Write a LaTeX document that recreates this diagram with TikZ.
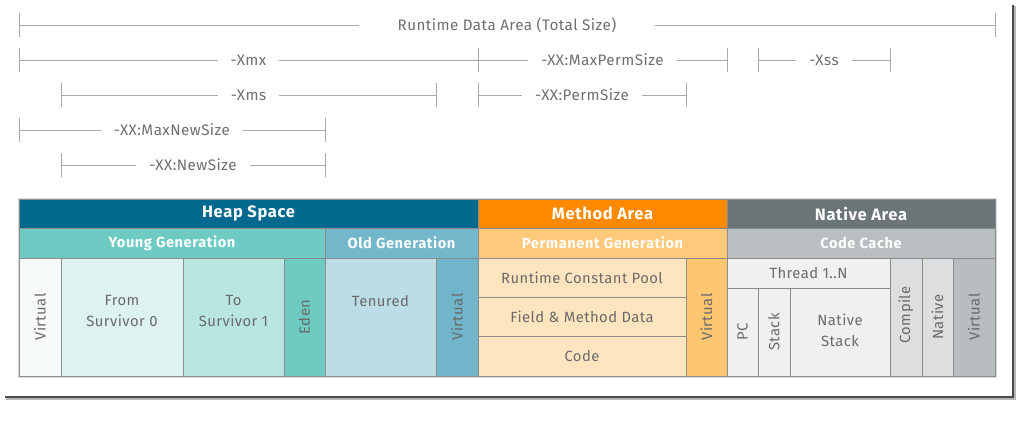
\documentclass[tikz,border=0pt]{standalone}
\usepackage{fontspec}
\setmainfont{Fira Sans}
\newfontfamily\hdfont[LetterSpace=4]{Fira Sans}
\newfontfamily\cellfont[LetterSpace=3]{Fira Sans}
\definecolor{heapc}{HTML}{03698F}
\definecolor{youngc}{HTML}{6DCBC3}
\definecolor{oldc}{HTML}{73B7CB}
\definecolor{vyc}{HTML}{F6FAFB}
\definecolor{fsc}{HTML}{DEF2F0}
\definecolor{tsc}{HTML}{B9E6E1}
\definecolor{edenc}{HTML}{6DCBC2}
\definecolor{tenc}{HTML}{BCDCE6}
\definecolor{voc}{HTML}{71B5CA}
\definecolor{methc}{HTML}{FF8A00}
\definecolor{permc}{HTML}{FFC97B}
\definecolor{pcellc}{HTML}{FFE5BF}
\definecolor{vpc}{HTML}{FFC671}
\definecolor{natc}{HTML}{6B7477}
\definecolor{cachec}{HTML}{B9BEC0}
\definecolor{thrc}{HTML}{F0F0F0}
\definecolor{compc}{HTML}{DDDEDF}
\definecolor{vnc}{HTML}{B8BDC0}
\definecolor{bordc}{HTML}{8C8C8C}
\definecolor{celltext}{HTML}{6A6A6A}
\definecolor{dimc}{HTML}{A9A9A9}
\definecolor{dimtext}{HTML}{6E6E6E}
\definecolor{framec}{HTML}{4A4A4A}
\tikzset{
  box/.style={draw=bordc, line width=0.6pt, anchor=north west, inner sep=0pt, outer sep=0pt, text=celltext, align=center, font=\cellfont\fontsize{14.8}{21}\selectfont},
  hd/.style={box, text=white, font=\hdfont\bfseries\fontsize{16.5}{18}\selectfont},
  hd2/.style={box, text=white, font=\hdfont\bfseries\fontsize{14.6}{18}\selectfont},
  vtext/.style={rotate=90, text=celltext, font=\cellfont\fontsize{14.8}{17}\selectfont},
  ctext/.style={text=celltext, align=center, font=\cellfont\fontsize{14.8}{21}\selectfont},
  dim/.style={draw=dimc, line width=0.9pt},
  dimlabel/.style={text=dimtext, inner ysep=0pt, font=\cellfont\fontsize{15.2}{17}\selectfont}
}
\begin{document}
\begin{tikzpicture}[x=1pt,y=-1pt]
\useasboundingbox (0,0) rectangle (1036,429);
% frame shadow
\draw[line width=3pt, color=framec!40] (6,398.5) -- (1014.5,398.5) -- (1014.5,6);
\draw[line width=2pt, color=framec] (5,397) -- (1013,397) -- (1013,5);
% dimension lines
\foreach \nm/\y/\a/\b/\gap/\lab in {
  rda/25/19/995/38/{Runtime Data Area (Total Size)},
  xmx/60/19/478/13/{-Xmx},
  mps/60/478/727/13/{-XX:MaxPermSize},
  xss/60/758/890/13/{-Xss},
  xms/95/61/436/13/{-Xms},
  ps/95/478/686/13/{-XX:PermSize},
  mns/130/19/325/13/{-XX:MaxNewSize},
  ns/165/61/325/13/{-XX:NewSize}}{
  \coordinate (\nm-a) at (\a,\y);
  \coordinate (\nm-b) at (\b,\y);
  \node[dimlabel, inner xsep=\gap pt] (\nm) at ({(\a+\b)/2},\y) {\lab};
  \draw[dim] (\nm-a) -- (\nm.west);
  \draw[dim] (\nm.east) -- (\nm-b);
  \draw[dim] ([yshift=12pt]\nm-a) -- ([yshift=-12pt]\nm-a);
  \draw[dim] ([yshift=12pt]\nm-b) -- ([yshift=-12pt]\nm-b);
}
% table shadow outline
\draw[color=black!15, line width=1pt] (18,198) rectangle (996,377);
% header row
\node[hd, fill=heapc, minimum width=459pt, minimum height=29pt] (heap) at (19,199) {Heap Space};
\node[hd, fill=methc, minimum width=249pt, minimum height=29pt] (meth) at (478,199) {Method Area};
\node[hd, fill=natc, minimum width=268pt, minimum height=29pt] (nat) at (727,199) {Native Area};
% second row
\node[hd2, fill=youngc, minimum width=306pt, minimum height=30pt] (young) at (19,228) {Young Generation};
\node[hd2, fill=oldc, minimum width=153pt, minimum height=30pt] (old) at (325,228) {Old Generation};
\node[hd2, fill=permc, minimum width=249pt, minimum height=30pt] (perm) at (478,228) {Permanent Generation};
\node[hd2, fill=cachec, minimum width=268pt, minimum height=30pt] (cache) at (727,228) {Code Cache};
% heap body
\node[box, fill=vyc, minimum width=42pt, minimum height=118pt] (vy) at (19,258) {};
\node[vtext] (vyt) at (vy.center) {Virtual};
\node[box, fill=fsc, minimum width=122pt, minimum height=118pt] (fs) at (61,258) {};
\node[ctext, anchor=north] (fst) at (122,292) {From\\Survivor 0};
\node[box, fill=tsc, minimum width=101pt, minimum height=118pt] (ts) at (183,258) {};
\node[ctext, anchor=north] (tst) at (233.5,292) {To\\Survivor 1};
\node[box, fill=edenc, minimum width=41pt, minimum height=118pt] (eden) at (284,258) {};
\node[vtext] (edent) at (eden.center) {Eden};
\node[box, fill=tenc, minimum width=111pt, minimum height=118pt] (ten) at (325,258) {};
\node[ctext, anchor=north] (tent) at (380.5,292) {Tenured};
\node[box, fill=voc, minimum width=42pt, minimum height=118pt] (vo) at (436,258) {};
\node[vtext] (vot) at (vo.center) {Virtual};
% method body
\node[box, fill=pcellc, minimum width=208pt, minimum height=39.33pt] (rcp) at (478,258) {Runtime Constant Pool};
\node[box, fill=pcellc, minimum width=208pt, minimum height=39.33pt] (fmd) at (478,297.33) {Field \& Method Data};
\node[box, fill=pcellc, minimum width=208pt, minimum height=39.34pt] (code) at (478,336.66) {Code};
\node[box, fill=vpc, minimum width=41pt, minimum height=118pt] (vp) at (686,258) {};
\node[vtext] (vpt) at (vp.center) {Virtual};
% native body
\node[box, fill=thrc, minimum width=163pt, minimum height=30pt] (thr) at (727,258) {Thread 1..N};
\node[box, fill=thrc, minimum width=31pt, minimum height=88pt] (pc) at (727,288) {};
\node[vtext] (pct) at (pc.center) {PC};
\node[box, fill=thrc, minimum width=32pt, minimum height=88pt] (stk) at (758,288) {};
\node[vtext] (stkt) at (stk.center) {Stack};
\node[box, fill=thrc, minimum width=100pt, minimum height=88pt] (nst) at (790,288) {};
\node[ctext] (nstt) at ([yshift=2pt]nst.center) {Native\\Stack};
\node[box, fill=compc, minimum width=32pt, minimum height=118pt] (comp) at (890,258) {};
\node[vtext] (compt) at ([yshift=2pt]comp.center) {Compile};
\node[box, fill=compc, minimum width=31pt, minimum height=118pt] (natv) at (922,258) {};
\node[vtext] (natvt) at (natv.center) {Native};
\node[box, fill=vnc, minimum width=42pt, minimum height=118pt] (vn) at (953,258) {};
\node[vtext] (vnt) at (vn.center) {Virtual};
\end{tikzpicture}
\end{document}
